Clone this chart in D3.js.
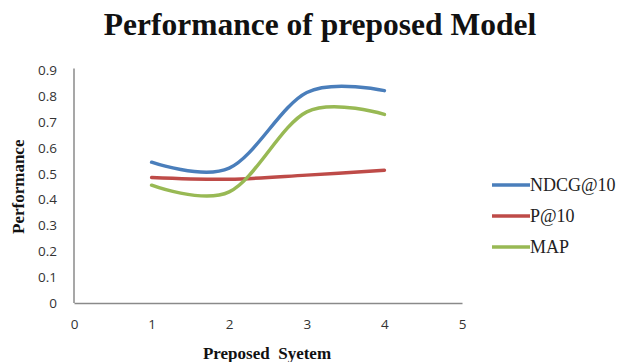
<!DOCTYPE html>
<html>
<head>
<meta charset="utf-8">
<script src="https://cdn.jsdelivr.net/npm/d3@7"></script>
<style>
  html, body { margin: 0; padding: 0; background: #fff; }
  svg { display: block; }
</style>
</head>
<body>
<svg id="chart" width="622" height="362"></svg>
<script>
// Systems on the x axis and the three measured series
const systems = [1, 2, 3, 4];
const ndcg10 = [0.545, 0.522, 0.815, 0.822];
const p10 = [0.486, 0.479, 0.495, 0.514];
const map = [0.456, 0.43, 0.74, 0.73];
const xTicks = [0, 1, 2, 3, 4, 5];
const yTicks = [0, 0.1, 0.2, 0.3, 0.4, 0.5, 0.6, 0.7, 0.8, 0.9];
const seriesNames = ["NDCG@10", "P@10", "MAP"];
const seriesColors = ["#4A7EBB", "#BE4B48", "#98B954"];

const series = [ndcg10, p10, map].map((vals, i) => ({
  name: seriesNames[i],
  color: seriesColors[i],
  points: systems.map((s, j) => ({ x: s, y: vals[j] }))
}));

const svg = d3.select("#chart");

const x = d3.scaleLinear().domain([0, 5]).range([74, 462]);
const y = d3.scaleLinear().domain([0, 0.9]).range([303, 70.5]);

// Title
svg.append("text")
  .attr("x", 320).attr("y", 35)
  .attr("text-anchor", "middle")
  .attr("font-family", "'Liberation Serif', 'Times New Roman', serif")
  .attr("font-weight", "bold")
  .attr("font-size", 31.5)
  .attr("fill", "#111")
  .text("Performance of preposed Model");

// Axes (lines only, no tick marks)
const axisColor = "#8a8a8a";
const yAxis = d3.axisLeft(y).tickValues(yTicks).tickSize(0).tickPadding(17)
  .tickFormat(d => d === 0 ? "0" : d3.format(".1f")(d));
const xAxis = d3.axisBottom(x).tickValues(xTicks).tickSize(0).tickPadding(16)
  .tickFormat(d3.format("d"));

const gy = svg.append("g").attr("transform", `translate(${x(0)},0)`).call(yAxis);
const gx = svg.append("g").attr("transform", `translate(0,${y(0)})`).call(xAxis);
[gx, gy].forEach(g => {
  g.select(".domain").attr("stroke", axisColor).attr("stroke-width", 1.5);
  g.selectAll("text")
    .attr("font-family", "'Open Sans', 'DejaVu Sans', sans-serif")
    .attr("font-size", 13.5)
    .attr("fill", "#333");
});
gy.select(".domain").attr("d", `M0,${y(0.9) - 2}V${y(0)}`);

// Axis titles
svg.append("text")
  .attr("transform", `translate(24,${(y(0) + y(0.9)) / 2}) rotate(-90)`)
  .attr("text-anchor", "middle")
  .attr("font-family", "'Liberation Serif', 'Times New Roman', serif")
  .attr("font-weight", "bold")
  .attr("font-size", 17)
  .attr("fill", "#111")
  .text("Performance");

svg.append("text")
  .attr("x", 267).attr("y", 359)
  .attr("text-anchor", "middle")
  .attr("font-family", "'Liberation Serif', 'Times New Roman', serif")
  .attr("font-weight", "bold")
  .attr("font-size", 17)
  .attr("fill", "#111")
  .attr("xml:space", "preserve")
  .style("white-space", "pre")
  .text("Preposed  Syetem");

// Smoothed series lines
const line = d3.line()
  .x(d => x(d.x))
  .y(d => y(d.y))
  .curve(d3.curveCardinal.tension(0));

svg.append("g").selectAll("path")
  .data(series)
  .join("path")
  .attr("d", d => line(d.points))
  .attr("fill", "none")
  .attr("stroke", d => d.color)
  .attr("stroke-width", 3.5)
  .attr("stroke-linecap", "round");

// Legend
const legend = svg.append("g").attr("transform", "translate(492,185)");
const item = legend.selectAll("g")
  .data(series)
  .join("g")
  .attr("transform", (d, i) => `translate(0,${i * 31})`);
item.append("line")
  .attr("x1", 0).attr("x2", 38)
  .attr("stroke", d => d.color)
  .attr("stroke-width", 3.5);
item.append("text")
  .attr("x", 38).attr("y", 6)
  .attr("font-family", "'Liberation Serif', 'Times New Roman', serif")
  .attr("font-size", 18)
  .attr("fill", "#222")
  .text(d => d.name);
</script>
</body>
</html>
